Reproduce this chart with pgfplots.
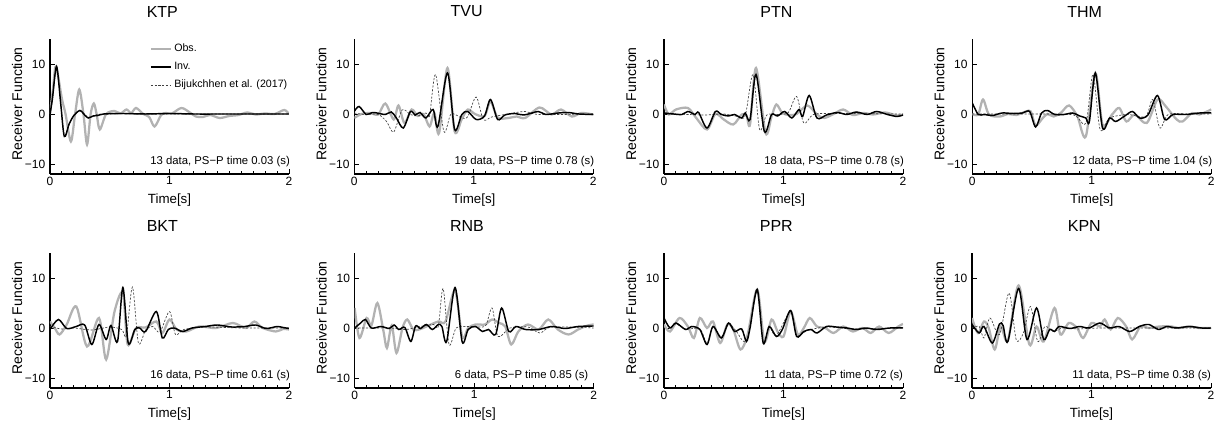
\documentclass[border=0pt]{standalone}
\usepackage{fontspec}
\setmainfont{Liberation Sans}
\usepackage{pgfplots}
\pgfplotsset{compat=1.18}

% 1 px of the reference = 0.75pt
\tikzset{
  obs/.style={black!30, line width=1.7pt, smooth},
  inv/.style={black, line width=1.1pt, smooth},
  bij/.style={black!75, line width=0.5pt, dash pattern=on 1.6pt off 1.2pt, smooth},
  note/.style={anchor=base west, font=\fontsize{8.5}{9}\selectfont},
}
\pgfplotsset{
  rf/.style={
    scale only axis, width=179.25pt, height=101.25pt,
    xmin=0, xmax=2, ymin=-12, ymax=15,
    axis x line*=bottom, axis y line*=left,
    axis line style={line width=1.1pt, -},
    xtick={0,1,2}, xticklabels={0,1,2},
    ytick={-10,0,10}, yticklabels={−10,0,10},
    minor x tick num=9,
    tick align=inside,
    major tick length=3.5pt, minor tick length=2.2pt,
    tick style={line width=0.7pt, black},
    ticklabel style={font=\fontsize{9}{9}\selectfont},
    xticklabel style={yshift=1.5pt},
    xlabel={Time[s]}, ylabel={Receiver Function},
    every axis x label/.style={at={(axis description cs:0.5,0)}, yshift=-22.5pt, anchor=base, font=\fontsize{10}{11}\selectfont},
    every axis y label/.style={at={(axis description cs:0,0.52)}, xshift=-24.75pt, rotate=90, anchor=center, font=\fontsize{10.5}{11}\selectfont},
    title style={font=\fontsize{12}{13}\selectfont, at={(axis description cs:0.47,1)}, anchor=center, yshift=14.6pt},
  },
}

\begin{document}
\begin{tikzpicture}
\path[use as bounding box] (0,0) rectangle (913.5pt,317.25pt);

% ---------------- KTP
\begin{axis}[rf, at={(37.5pt,186.75pt)}, anchor=south west, title={KTP},
  legend style={at={(axis description cs:0.40,1)}, anchor=north west, draw=none, fill=none,
    font=\fontsize{8}{9}\selectfont, nodes={inner sep=1.6pt}, row sep=3.2pt},
  legend cell align=left,
  legend image code/.code={\draw[#1] (0pt,0pt) -- (15pt,0pt);}]
\addlegendimage{obs}\addlegendentry{Obs.}
\addlegendimage{inv}\addlegendentry{Inv.}
\addlegendimage{bij}\addlegendentry{Bijukchhen et al. (2017)}
\addplot[obs, forget plot] coordinates {
 (0,0) (0.025,5) (0.05,9.5) (0.1,3.0) (0.13,0) (0.175,-5.5) (0.21,0) (0.245,4.9) (0.28,0)
 (0.31,-6.1) (0.34,0) (0.367,2.1) (0.39,0) (0.417,-3.1) (0.47,0) (0.54,0.6) (0.59,0.1)
 (0.64,0.9) (0.68,0.2) (0.72,1.2) (0.78,0) (0.83,-0.6) (0.875,-2.5) (0.93,-0.2) (0.97,0.2)
 (1.02,0.1) (1.1,1.2) (1.17,0.3) (1.22,-0.5) (1.28,-0.6) (1.34,-0.2) (1.42,-0.8) (1.5,-0.4)
 (1.58,-0.2) (1.65,0.3) (1.72,-0.1) (1.8,0.1) (1.88,0) (1.96,0.8) (2.0,0)};
\addplot[bij, forget plot] coordinates {
 (0,0) (0.02,3.2) (0.055,9.3) (0.09,2.2) (0.12,-4.3) (0.16,-2.1) (0.2,-0.2) (0.25,0.6)
 (0.3,-0.3) (0.33,-0.7) (0.38,-0.3) (0.45,0) (1,0) (2,0)};
\addplot[inv, forget plot] coordinates {
 (0,0) (0.02,3) (0.055,9.5) (0.09,2) (0.12,-4.5) (0.16,-2) (0.2,-0.3) (0.25,0.7) (0.29,-0.2)
 (0.32,-0.8) (0.36,-0.4) (0.4,-0.3) (0.45,0) (0.6,0.1) (0.8,0) (1,0.1) (1.2,0) (1.5,0) (1.8,0) (2,0)};
\node[note] at (axis cs:0.8,-10.2) {13 data, PS−P time 0.03 (s)};
\end{axis}

% ---------------- TVU
\begin{axis}[rf, at={(265.7pt,186.75pt)}, anchor=south west, title={TVU}]
\addplot[obs] coordinates {
 (0,-0.8) (0.06,0) (0.13,0.2) (0.2,-0.1) (0.26,2.1) (0.33,-1.1) (0.37,1.7) (0.42,-1.8)
 (0.48,0.9) (0.53,-0.4) (0.58,0) (0.63,-2.5) (0.67,0.2) (0.71,-3.8) (0.78,9.2) (0.84,-3.5)
 (0.9,-1) (0.95,0.9) (1.01,0) (1.09,-0.4) (1.14,2.5) (1.2,-0.7) (1.29,-0.8) (1.36,-0.5)
 (1.43,-0.8) (1.55,1.3) (1.65,-0.1) (1.73,0.9) (1.82,-0.5) (1.9,0.2) (2,-0.1)};
\addplot[bij] coordinates {
 (0,0.2) (0.09,-0.1) (0.2,-0.1) (0.27,-1.5) (0.33,-3.6) (0.4,0.8) (0.47,-0.1) (0.53,-0.4)
 (0.6,0.2) (0.63,-0.4) (0.68,7.9) (0.75,-3.5) (0.81,0) (0.9,-0.8) (0.95,-0.5) (1.02,3.4)
 (1.08,-1.1) (1.15,-0.6) (1.26,-0.1) (1.43,0.5) (1.55,-0.1) (2,0)};
\addplot[inv] coordinates {
 (0,0.5) (0.04,1.5) (0.1,-0.1) (0.15,0.3) (0.19,0.2) (0.26,-0.1) (0.31,0.4) (0.35,-0.7)
 (0.41,-2.8) (0.47,0.5) (0.51,-0.2) (0.55,0.3) (0.6,-0.8) (0.66,0.9) (0.7,-2.5) (0.78,8.2)
 (0.84,-3.1) (0.9,-0.1) (0.95,0.5) (1.02,-1.1) (1.09,-0.4) (1.14,2.9) (1.2,-1.1) (1.26,-0.2)
 (1.34,0.1) (1.42,-0.2) (1.54,0.5) (1.6,-0.1) (1.71,0.2) (1.79,0.3) (1.88,0) (2,-0.1)};
\node[note] at (axis cs:0.8,-10.2) {19 data, PS−P time 0.78 (s)};
\end{axis}

% ---------------- PTN
\begin{axis}[rf, at={(498pt,186.75pt)}, anchor=south west, title={PTN}]
\addplot[obs] coordinates {
 (0,1.9) (0.04,-0.1) (0.1,0.9) (0.2,1.2) (0.27,-0.8) (0.36,-3.1) (0.43,0) (0.5,-1.1)
 (0.58,-2.1) (0.65,-0.1) (0.69,-0.3) (0.72,-2.1) (0.77,9.2) (0.85,-3.8) (0.9,-0.5) (0.94,1.9)
 (0.99,0.2) (1.05,-0.2) (1.11,0) (1.2,1.7) (1.28,-0.1) (1.34,-0.8) (1.42,0) (1.5,0.9)
 (1.58,-0.2) (1.67,0.2) (1.75,-0.1) (1.85,0.3) (1.95,-0.3) (2,-0.1)};
\addplot[bij] coordinates {
 (0,0) (0.2,-0.1) (0.35,-0.2) (0.5,0) (0.62,-0.5) (0.68,-0.3) (0.745,7.9) (0.8,-3.1)
 (0.86,-0.2) (0.95,-0.1) (1.04,0.3) (1.11,3.5) (1.17,-1.8) (1.25,-0.1) (1.4,0.1) (2,0)};
\addplot[inv] coordinates {
 (0,0.2) (0.08,0) (0.15,-0.1) (0.2,0.5) (0.26,-0.1) (0.29,0.3) (0.36,-2.8) (0.43,0.5)
 (0.48,-0.1) (0.54,-0.4) (0.59,-0.1) (0.65,-0.8) (0.68,0.2) (0.72,-1.1) (0.77,7.9) (0.84,-3.5)
 (0.9,-0.1) (0.95,-0.4) (1.01,0.5) (1.07,-0.8) (1.13,0.9) (1.16,-0.5) (1.215,3.7) (1.28,-0.8)
 (1.36,-0.2) (1.45,0.3) (1.53,-0.1) (1.61,0.4) (1.7,-0.1) (1.78,0.5) (1.87,-0.1) (1.95,-0.5) (2,-0.2)};
\node[note] at (axis cs:0.8,-10.2) {18 data, PS−P time 0.78 (s)};
\end{axis}

% ---------------- THM
\begin{axis}[rf, at={(729.2pt,186.75pt)}, anchor=south west, title={THM}]
\addplot[obs] coordinates {
 (0,0) (0.05,-0.1) (0.09,2.9) (0.14,-0.1) (0.23,-0.5) (0.3,0) (0.37,-0.2) (0.45,0.5)
 (0.49,0.5) (0.53,-2.3) (0.59,-0.8) (0.63,0) (0.68,-0.5) (0.74,0.2) (0.81,1.7) (0.88,-0.5)
 (0.95,-4.5) (1.03,8.2) (1.09,-2.1) (1.17,-0.1) (1.23,1.2) (1.29,-1.5) (1.36,-0.1) (1.46,-1.8)
 (1.55,2.9) (1.62,1.5) (1.71,-1.1) (1.76,-1.5) (1.84,0.2) (1.9,-0.1) (2,0.9)};
\addplot[bij] coordinates {
 (0,0) (0.3,0) (0.6,0) (0.85,-0.2) (0.95,-1.8) (1.01,7.9) (1.07,-3.1) (1.15,-0.8) (1.3,-0.1)
 (1.45,-0.5) (1.51,2.9) (1.57,-2.8) (1.64,-0.1) (1.8,0) (2,0)};
\addplot[inv] coordinates {
 (0,2.2) (0.05,-0.1) (0.1,-0.1) (0.17,-0.3) (0.25,0.2) (0.34,0.1) (0.42,0.2) (0.48,0.5)
 (0.53,-2.6) (0.58,0.2) (0.63,0.7) (0.69,-0.1) (0.77,-0.1) (0.84,0.2) (0.9,-0.4) (0.95,-0.8)
 (0.98,-1.5) (1.03,8.2) (1.09,-2.8) (1.15,-0.8) (1.2,-1.5) (1.27,-0.5) (1.34,0.5) (1.4,-0.8)
 (1.47,-0.2) (1.55,3.7) (1.61,-1.1) (1.68,-0.1) (1.79,-0.1) (1.9,0.2) (2,0.2)};
\node[note] at (axis cs:0.8,-10.2) {12 data, PS−P time 1.04 (s)};
\end{axis}

% ---------------- BKT
\begin{axis}[rf, at={(37.5pt,26.25pt)}, anchor=south west, title={BKT}]
\addplot[obs] coordinates {
 (0,1.3) (0.04,0) (0.08,-1.3) (0.14,0.7) (0.22,4.3) (0.31,-3.7) (0.41,2) (0.47,-6.3)
 (0.54,3.3) (0.61,7) (0.65,-3.3) (0.72,0) (0.8,0.1) (0.89,1.3) (0.94,-1) (1.0,1.7)
 (1.06,-0.3) (1.14,-0.7) (1.25,0.3) (1.39,0) (1.53,1) (1.64,0) (1.71,1.3) (1.78,0)
 (1.89,-0.7) (1.95,-0.2) (2,-0.3)};
\addplot[bij] coordinates {
 (0,0.3) (0.1,-0.2) (0.2,0) (0.35,-0.4) (0.5,0.2) (0.6,-0.3) (0.64,-1.5) (0.69,8.2)
 (0.74,-3) (0.8,-0.4) (0.86,0.3) (0.92,-0.8) (1.0,3.3) (1.05,-1.3) (1.12,-0.3) (1.3,0.2)
 (1.6,0) (2,0)};
\addplot[inv] coordinates {
 (0,-0.3) (0.07,1.7) (0.14,-0.1) (0.22,0.3) (0.29,0.6) (0.35,-3.3) (0.41,0.7) (0.47,-2.3)
 (0.51,0.5) (0.565,-2.7) (0.61,8.1) (0.655,-3.0) (0.71,-0.3) (0.75,0) (0.8,-0.7) (0.89,3.3)
 (0.94,-2) (0.99,-0.3) (1.04,0) (1.11,-0.7) (1.19,0) (1.3,0.3) (1.4,0.6) (1.52,0.2)
 (1.63,0.3) (1.72,0.6) (1.81,-0.1) (1.9,0.3) (1.95,0.1) (2,-0.1)};
\node[note] at (axis cs:0.8,-10.2) {16 data, PS−P time 0.61 (s)};
\end{axis}

% ---------------- RNB
\begin{axis}[rf, at={(266pt,26.25pt)}, anchor=south west, title={RNB}]
\addplot[obs] coordinates {
 (0,4) (0.04,-2) (0.1,2) (0.14,0.5) (0.19,5) (0.24,-0.5) (0.27,-4) (0.31,0.5) (0.35,-5)
 (0.4,0) (0.44,1.7) (0.49,-0.3) (0.54,-0.3) (0.6,0.3) (0.7,1.3) (0.76,1.3) (0.84,7.5)
 (0.9,-1.8) (0.95,0) (1.01,0.7) (1.09,0.7) (1.15,1.7) (1.21,1) (1.26,0.3) (1.31,-3.3)
 (1.37,-0.7) (1.45,0.7) (1.54,-0.3) (1.62,1.7) (1.7,-0.3) (1.79,-1.3) (1.87,-0.3) (1.95,0.5) (2,0.7)};
\addplot[bij] coordinates {
 (0,0) (0.15,0) (0.3,0) (0.43,-0.3) (0.55,0.3) (0.66,0.7) (0.7,0.3) (0.74,7.9) (0.79,-3.3)
 (0.85,0) (0.95,0.3) (1.05,0.2) (1.1,0.6) (1.15,4) (1.2,-1.7) (1.3,0) (1.45,0.2) (1.55,-1)
 (1.65,0.2) (2,0)};
\addplot[inv] coordinates {
 (0,0) (0.05,1) (0.09,1.7) (0.14,0) (0.22,0.3) (0.29,-0.1) (0.33,0.6) (0.37,-0.3) (0.42,0.1)
 (0.47,-2.7) (0.51,0.4) (0.55,-0.1) (0.6,0.7) (0.65,-0.3) (0.7,0.7) (0.73,0.3) (0.77,-2.7)
 (0.84,8.1) (0.9,-2.8) (0.95,-0.3) (1.01,0.3) (1.07,-0.7) (1.12,-0.3) (1.18,-1.3) (1.23,4)
 (1.29,-0.7) (1.35,0.3) (1.43,-0.3) (1.54,-0.3) (1.65,0.3) (1.76,-0.1) (1.87,0.3) (2,0.4)};
\node[note] at (axis cs:0.8,-10.2) {6 data, PS−P time 0.85 (s)};
\end{axis}

% ---------------- PPR
\begin{axis}[rf, at={(498pt,26.25pt)}, anchor=south west, title={PPR}]
\addplot[obs] coordinates {
 (0,0.7) (0.05,-0.7) (0.13,2) (0.2,0.3) (0.25,-2) (0.3,2) (0.36,0) (0.41,1.3) (0.47,-3)
 (0.53,0.7) (0.58,-0.3) (0.64,-4.3) (0.7,-1.3) (0.78,7.7) (0.84,-2.7) (0.9,1.7) (0.95,-0.7)
 (1.0,-1.7) (1.06,3.3) (1.12,-1.3) (1.17,0) (1.22,2) (1.28,0.3) (1.35,0) (1.42,-1) (1.5,0.3)
 (1.58,-0.7) (1.66,0) (1.73,-1) (1.8,0.3) (1.88,-1) (1.96,0.3) (2,0.8)};
\addplot[bij] coordinates {
 (0,1.8) (0.05,0.1) (0.1,0.8) (0.18,-0.2) (0.3,-0.2) (0.36,-3) (0.41,0.2) (0.48,-1.8)
 (0.54,0.8) (0.6,-0.5) (0.69,-2.5) (0.78,7.4) (0.83,-2.8) (0.88,0.2) (0.94,-1.5) (1.06,3.3)
 (1.11,-1.5) (1.2,-0.5) (1.36,0.2) (1.6,-0.2) (2,0)};
\addplot[inv] coordinates {
 (0,2) (0.05,0) (0.1,1) (0.18,-0.3) (0.23,0.3) (0.3,-0.3) (0.36,-3.3) (0.41,0.3) (0.48,-2)
 (0.54,1) (0.59,-0.7) (0.65,-0.2) (0.69,-2.7) (0.72,0) (0.78,7.7) (0.83,-3) (0.88,0.3)
 (0.94,-1.7) (0.99,-0.3) (1.06,3.5) (1.11,-1.7) (1.17,-0.7) (1.23,-0.3) (1.28,-1) (1.36,0.3)
 (1.44,0.2) (1.53,0) (1.61,-0.3) (1.69,0) (1.78,-0.3) (1.89,0) (2,0)};
\node[note] at (axis cs:0.8,-10.2) {11 data, PS−P time 0.72 (s)};
\end{axis}

% ---------------- KPN
\begin{axis}[rf, at={(729pt,26.25pt)}, anchor=south west, title={KPN}]
\addplot[obs] coordinates {
 (0,2) (0.05,-1) (0.1,1.3) (0.14,0) (0.19,-4.3) (0.24,0.3) (0.3,-2.5) (0.39,8.5) (0.48,-3.3)
 (0.54,0.3) (0.6,-2.7) (0.69,4) (0.74,-1.3) (0.81,1) (0.88,0) (0.93,-2) (1.0,1) (1.07,0.3)
 (1.11,1.7) (1.16,-0.3) (1.22,2) (1.29,0.3) (1.34,-2.3) (1.41,0.3) (1.48,0) (1.57,0.3)
 (1.67,0.3) (1.73,0) (1.82,0.3) (1.9,0) (2,0)};
\addplot[bij] coordinates {
 (0,0) (0.06,0.3) (0.1,-2) (0.15,2) (0.23,-1.3) (0.31,7) (0.37,-2.3) (0.43,-1) (0.49,4.3)
 (0.55,-2.7) (0.61,0.3) (0.68,-0.7) (0.76,0) (0.9,-0.2) (1.1,0) (2,0)};
\addplot[inv] coordinates {
 (0,0.7) (0.06,-1) (0.1,0.3) (0.17,-3) (0.23,0.8) (0.26,0.5) (0.3,-2.7) (0.39,7.9)
 (0.46,-2.3) (0.54,4) (0.6,-2.3) (0.65,-0.3) (0.69,-0.7) (0.73,0.3) (0.82,-0.1) (0.9,0.3)
 (0.98,0) (1.07,1) (1.15,0) (1.23,0.3) (1.32,-0.7) (1.4,0.3) (1.48,0.7) (1.56,-0.3)
 (1.63,0.3) (1.71,0) (1.82,0.3) (1.92,0) (2,0)};
\node[note] at (axis cs:0.8,-10.2) {11 data, PS−P time 0.38 (s)};
\end{axis}
\end{tikzpicture}
\end{document}
